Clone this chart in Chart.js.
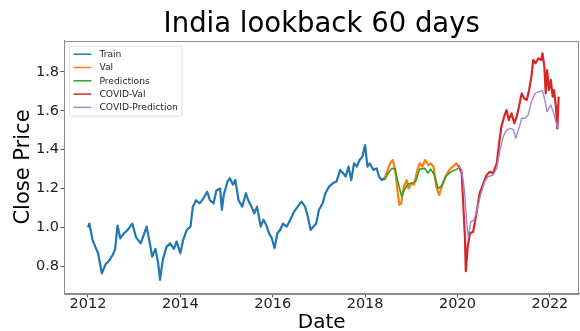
<!DOCTYPE html>
<html>
<head>
<meta charset="utf-8">
<script src="https://cdn.jsdelivr.net/npm/chart.js@4.4.1/dist/chart.umd.min.js"></script>
<style>
  html, body { margin: 0; padding: 0; background: #ffffff; }
  #c { display: block; }
</style>
</head>
<body>
<canvas id="c" width="580" height="331"></canvas>
<script>
// ---------------- data ----------------
const seriesNames = ['Train', 'Val', 'Predictions', 'COVID-Val', 'COVID-Prediction'];

const trainDates = [
  2012.00,2012.03,2012.10,2012.16,2012.22,2012.30,2012.38,2012.46,2012.54,2012.59,
  2012.64,2012.70,2012.78,2012.86,2012.96,2013.04,2013.14,2013.22,2013.27,2013.34,
  2013.39,2013.46,2013.52,2013.56,2013.62,2013.70,2013.78,2013.86,2013.92,2014.00,
  2014.06,2014.14,2014.22,2014.27,2014.34,2014.42,2014.50,2014.58,2014.64,2014.72,
  2014.78,2014.86,2014.90,2014.94,2015.02,2015.07,2015.14,2015.19,2015.26,2015.34,
  2015.42,2015.47,2015.54,2015.60,2015.66,2015.70,2015.74,2015.80,2015.86,2015.92,
  2015.98,2016.04,2016.10,2016.16,2016.22,2016.30,2016.38,2016.46,2016.54,2016.62,
  2016.70,2016.76,2016.82,2016.88,2016.94,2017.00,2017.08,2017.14,2017.22,2017.30,
  2017.38,2017.46,2017.52,2017.58,2017.64,2017.70,2017.76,2017.82,2017.88,2017.94,
  2018.00,2018.05,2018.10,2018.18,2018.25,2018.30,2018.36,2018.42
];
const trainValues = [
  1.00,1.02,0.935,0.90,0.867,0.764,0.81,0.83,0.86,0.89,
  1.01,0.944,0.97,0.987,1.02,0.95,0.918,0.97,1.004,0.918,
  0.85,0.89,0.815,0.73,0.833,0.90,0.918,0.89,0.927,0.867,
  0.935,0.987,1.004,1.107,1.14,1.124,1.15,1.184,1.14,1.124,
  1.19,1.20,1.09,1.167,1.236,1.253,1.22,1.244,1.14,1.107,
  1.176,1.14,1.107,1.073,1.107,1.056,1.004,1.04,1.013,0.97,
  0.944,0.893,0.97,0.987,1.02,1.004,1.04,1.08,1.107,1.133,
  1.107,1.056,0.987,1.004,1.02,1.09,1.124,1.176,1.21,1.227,
  1.236,1.296,1.28,1.262,1.313,1.244,1.33,1.313,1.347,1.364,
  1.424,1.313,1.33,1.296,1.304,1.262,1.244,1.253
];

const valDates = [
  2018.42,2018.49,2018.54,2018.60,2018.65,2018.70,2018.74,2018.78,2018.84,2018.90,
  2018.94,2019.00,2019.06,2019.13,2019.18,2019.24,2019.30,2019.37,2019.42,2019.48,
  2019.54,2019.60,2019.66,2019.74,2019.82,2019.90,2019.98,2020.02
];
const valValues = [
  1.253,1.296,1.33,1.347,1.296,1.19,1.116,1.124,1.21,1.244,
  1.20,1.227,1.22,1.296,1.33,1.313,1.347,1.32,1.33,1.313,
  1.21,1.167,1.21,1.262,1.296,1.313,1.33,1.313
];

const predDates = [
  2018.42,2018.50,2018.58,2018.65,2018.70,2018.79,2018.86,2018.94,2019.02,2019.10,
  2019.18,2019.29,2019.36,2019.42,2019.50,2019.58,2019.66,2019.74,2019.85,2020.02
];
const predValues = [
  1.244,1.279,1.304,1.30,1.244,1.16,1.20,1.225,1.227,1.24,
  1.30,1.304,1.28,1.30,1.27,1.20,1.215,1.26,1.285,1.304
];

const covidValDates = [
  2020.02,2020.09,2020.12,2020.16,2020.18,2020.22,2020.27,2020.34,2020.41,2020.48,
  2020.56,2020.63,2020.70,2020.77,2020.85,2020.90,2020.95,2021.01,2021.06,2021.11,
  2021.17,2021.23,2021.28,2021.33,2021.39,2021.44,2021.50,2021.55,2021.60,2021.64,
  2021.69,2021.75,2021.81,2021.84,2021.88,2021.91,2021.94,2021.98,2022.02,2022.06,
  2022.09,2022.13,2022.16,2022.19
];
const covidValValues = [
  1.321,1.279,1.141,0.952,0.775,0.90,0.97,0.978,1.073,1.176,
  1.227,1.27,1.287,1.279,1.33,1.433,1.519,1.57,1.604,1.553,
  1.587,1.536,1.57,1.621,1.69,1.665,1.656,1.707,1.776,1.862,
  1.845,1.87,1.862,1.896,1.827,1.69,1.81,1.707,1.759,1.673,
  1.707,1.621,1.51,1.673
];

const covidPredDates = [
  2020.02,2020.09,2020.15,2020.20,2020.23,2020.29,2020.36,2020.43,2020.51,2020.59,
  2020.66,2020.77,2020.85,2020.92,2020.99,2021.06,2021.13,2021.21,2021.26,2021.33,
  2021.39,2021.46,2021.53,2021.60,2021.68,2021.76,2021.84,2021.89,2021.94,2021.98,
  2022.02,2022.07,2022.12,2022.17,2022.19
];
const covidPredValues = [
  1.321,1.296,1.193,1.021,0.952,1.03,1.038,1.099,1.176,1.235,
  1.261,1.27,1.304,1.399,1.467,1.501,1.51,1.505,1.459,1.51,
  1.562,1.562,1.579,1.647,1.69,1.699,1.704,1.656,1.596,1.613,
  1.63,1.596,1.553,1.515,1.518
];

const xTickValues = [2012, 2014, 2016, 2018, 2020, 2022];
const xTickLabels = ['2012', '2014', '2016', '2018', '2020', '2022'];
const yTickValues = [0.8, 1.0, 1.2, 1.4, 1.6, 1.8];
const yTickLabels = ['0.8', '1.0', '1.2', '1.4', '1.6', '1.8'];

// ---------------- chart ----------------
const FONT = "'DejaVu Sans', 'Liberation Sans', sans-serif";
const colors = ['#1f77b4', '#ff7f0e', '#2ca02c', '#d62728', '#a487d2'];
const widths = [2.2, 2.2, 1.6, 2.2, 1.4];

function pts(xs, ys) { return xs.map((x, i) => ({ x: x, y: ys[i] })); }
const allSeries = [
  pts(trainDates, trainValues),
  pts(valDates, valValues),
  pts(predDates, predValues),
  pts(covidValDates, covidValValues),
  pts(covidPredDates, covidPredValues)
];

const datasets = seriesNames.map((name, i) => ({
  label: name,
  data: allSeries[i],
  borderColor: colors[i],
  backgroundColor: colors[i],
  borderWidth: widths[i],
  pointRadius: 0,
  tension: 0,
  borderJoinStyle: 'round',
  order: seriesNames.length - i
}));

const framePlugin = {
  id: 'frame',
  afterDatasetsDraw(chart) {
    const a = chart.chartArea, ctx = chart.ctx;
    ctx.save();
    ctx.strokeStyle = '#8c8c8c';
    ctx.lineWidth = 1;
    ctx.strokeRect(Math.round(a.left) + 0.5, Math.round(a.top) + 0.5,
                   Math.round(a.right - a.left) - 1, Math.round(a.bottom - a.top));
    ctx.restore();
  }
};

const legendPlugin = {
  id: 'mplLegend',
  afterDatasetsDraw(chart) {
    const a = chart.chartArea, ctx = chart.ctx;
    const ds = chart.data.datasets;
    const x0 = a.left + 5, y0 = a.top + 5.5;
    const rowH = 13.3, fs = 9.2;
    ctx.save();
    ctx.font = fs + 'px ' + FONT;
    let maxW = 0;
    ds.forEach(d => { maxW = Math.max(maxW, ctx.measureText(d.label).width); });
    const w = 30 + maxW + 4, h = ds.length * rowH + 3.5;
    const r = 2.5;
    ctx.beginPath();
    ctx.moveTo(x0 + r, y0);
    ctx.lineTo(x0 + w - r, y0); ctx.arcTo(x0 + w, y0, x0 + w, y0 + r, r);
    ctx.lineTo(x0 + w, y0 + h - r); ctx.arcTo(x0 + w, y0 + h, x0 + w - r, y0 + h, r);
    ctx.lineTo(x0 + r, y0 + h); ctx.arcTo(x0, y0 + h, x0, y0 + h - r, r);
    ctx.lineTo(x0, y0 + r); ctx.arcTo(x0, y0, x0 + r, y0, r);
    ctx.closePath();
    ctx.fillStyle = 'rgba(255,255,255,0.85)';
    ctx.fill();
    ctx.strokeStyle = '#dcdcdc';
    ctx.lineWidth = 1;
    ctx.stroke();
    ds.forEach((d, i) => {
      const cy = y0 + 8 + i * rowH;
      ctx.beginPath();
      ctx.moveTo(x0 + 4, cy);
      ctx.lineTo(x0 + 22, cy);
      ctx.strokeStyle = d.borderColor;
      ctx.lineWidth = 1.5;
      ctx.stroke();
      ctx.fillStyle = '#262626';
      ctx.textBaseline = 'middle';
      ctx.textAlign = 'left';
      ctx.fillText(d.label, x0 + 30, cy + 0.5);
    });
    ctx.restore();
  }
};

new Chart(document.getElementById('c'), {
  type: 'line',
  data: { datasets: datasets },
  options: {
    responsive: false,
    animation: false,
    devicePixelRatio: 1,
    layout: { padding: { left: 0, right: 1, top: 0, bottom: 0 } },
    plugins: {
      legend: { display: false },
      tooltip: { enabled: false },
      title: {
        display: true,
        text: 'India lookback 60 days',
        fullSize: false,
        color: '#000000',
        font: { family: FONT, size: 27.5, weight: 'normal', lineHeight: 1.0 },
        padding: { top: 11.6, bottom: 1.6 }
      }
    },
    scales: {
      x: {
        type: 'linear',
        min: 2011.49,
        max: 2022.63,
        afterFit(s) { s.height = 37.7; },
        afterBuildTicks(s) { s.ticks = xTickValues.map(v => ({ value: v })); },
        ticks: {
          callback: (v) => xTickLabels[xTickValues.indexOf(v)],
          font: { family: FONT, size: 14.5, lineHeight: 1.0 },
          color: '#222222',
          padding: -0.5,
          maxRotation: 0,
          autoSkip: false
        },
        grid: { display: true, drawOnChartArea: false, drawTicks: true, tickLength: 4, color: '#555555' },
        border: { display: true, color: '#8c8c8c', width: 1 },
        title: {
          display: true,
          text: 'Date',
          color: '#000000',
          font: { family: FONT, size: 20, lineHeight: 0.83 },
          padding: 0
        }
      },
      y: {
        type: 'linear',
        min: 0.661,
        max: 1.961,
        afterFit(s) { s.width = 64.4; },
        afterBuildTicks(s) { s.ticks = yTickValues.map(v => ({ value: v })); },
        ticks: {
          callback: (v) => yTickLabels[yTickValues.findIndex(t => Math.abs(t - v) < 1e-9)],
          font: { family: FONT, size: 14.5 },
          color: '#222222',
          padding: 1.4,
          autoSkip: false
        },
        grid: { display: true, drawOnChartArea: false, drawTicks: true, tickLength: 4, color: '#555555' },
        border: { display: true, color: '#8c8c8c', width: 1 },
        title: {
          display: true,
          text: 'Close Price',
          color: '#000000',
          font: { family: FONT, size: 21, lineHeight: 1.2 },
          padding: { top: 11.4, bottom: 0 }
        }
      }
    }
  },
  plugins: [framePlugin, legendPlugin]
});
</script>
</body>
</html>
